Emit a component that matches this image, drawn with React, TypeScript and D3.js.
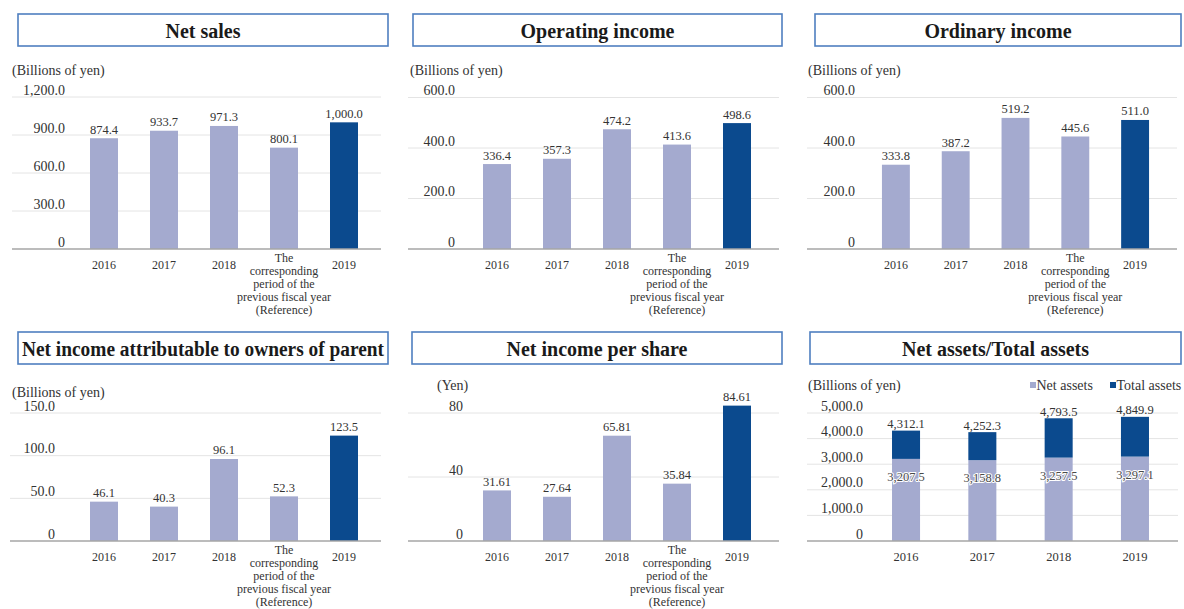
import React from "react";
import * as d3 from "d3";

// ---------- data ----------
const categories = [
  "2016",
  "2017",
  "2018",
  "The\ncorresponding\nperiod of the\nprevious fiscal year\n(Reference)",
  "2019",
];
const netSales = [874.4, 933.7, 971.3, 800.1, 1000.0];
const operatingIncome = [336.4, 357.3, 474.2, 413.6, 498.6];
const ordinaryIncome = [333.8, 387.2, 519.2, 445.6, 511.0];
const netIncomeParent = [46.1, 40.3, 96.1, 52.3, 123.5];
const netIncomePerShare = [31.61, 27.64, 65.81, 35.84, 84.61];

const assetYears = ["2016", "2017", "2018", "2019"];
const netAssets = [3207.5, 3158.8, 3257.5, 3297.1];
const totalAssets = [4312.1, 4252.3, 4793.5, 4849.9];

const ticksNetSales = [0, 300, 600, 900, 1200];
const ticksOperating = [0, 200, 400, 600];
const ticksOrdinary = [0, 200, 400, 600];
const ticksNetIncome = [0, 50, 100, 150];
const ticksPerShare = [0, 40, 80];
const ticksAssets = [0, 1000, 2000, 3000, 4000, 5000];

const legendLabels = ["Net assets", "Total assets"];

// ---------- style ----------
const LIGHT = "#A4AACF";
const DARK = "#0B4A8E";
const BORDER = "#4F7FC0";
const GRID = "#E4E4E4";
const AXIS = "#A6A6A6";
const TEXT = "#333333";
const FONT = "'Liberation Serif', 'Times New Roman', serif";

const fmt1 = (v: number) => (v === 0 ? "0" : d3.format(",.1f")(v));
const fmt0 = (v: number) => d3.format("d")(v);
const fmt2 = (v: number) => d3.format(".2f")(v);

type Layout = {
  title: string;
  box: [number, number, number, number];
  unit: string;
  unitPos: [number, number];
  tickRight: number;
  gridX: [number, number];
  yRange: [number, number];
  domainMax: number;
  ticks: number[];
  tickFmt: (v: number) => string;
  bandRange: [number, number];
};

function TitleBox({ title, box }: { title: string; box: [number, number, number, number] }) {
  const [x, y, w, h] = box;
  return (
    <g>
      <rect x={x} y={y} width={w} height={h} fill="#fff" stroke={BORDER} strokeWidth={1.6} />
      <text
        x={x + w / 2}
        y={y + h / 2 + 1}
        textAnchor="middle"
        dominantBaseline="central"
        fontFamily={FONT}
        fontWeight="bold"
        fontSize={20}
        fill="#1a1a1a"
        textLength={title.length > 30 ? w - 8 : undefined}
        lengthAdjust="spacingAndGlyphs"
      >
        {title}
      </text>
    </g>
  );
}

function Frame({ L, y }: { L: Layout; y: d3.ScaleLinear<number, number> }) {
  return (
    <g>
      <TitleBox title={L.title} box={L.box} />
      <text x={L.unitPos[0]} y={L.unitPos[1]} fontFamily={FONT} fontSize={14} fill={TEXT}>
        {L.unit}
      </text>
      {L.ticks
        .filter((t) => t !== 0)
        .map((t) => (
          <line key={"g" + t} x1={L.gridX[0]} x2={L.gridX[1]} y1={y(t)} y2={y(t)} stroke={GRID} strokeWidth={1} />
        ))}
      {L.ticks.map((t) => (
        <text
          key={"t" + t}
          x={L.tickRight}
          y={y(t) - 2.5}
          textAnchor="end"
          fontFamily={FONT}
          fontSize={14}
          fill={TEXT}
        >
          {L.tickFmt(t)}
        </text>
      ))}
    </g>
  );
}

function BarPanel({ L, values, valueFmt }: { L: Layout; values: number[]; valueFmt: (v: number) => string }) {
  const y = d3.scaleLinear().domain([0, L.domainMax]).range(L.yRange);
  const x = d3
    .scaleBand<string>()
    .domain(categories)
    .range(L.bandRange)
    .paddingInner(32 / 60)
    .paddingOuter(16 / 60);
  const y0 = y(0);
  return (
    <g>
      <Frame L={L} y={y} />
      {values.map((v, i) => {
        const c = categories[i];
        const bx = x(c) as number;
        return (
          <g key={c}>
            <rect
              x={bx}
              y={y(v)}
              width={x.bandwidth()}
              height={y0 - y(v)}
              fill={i === values.length - 1 ? DARK : LIGHT}
            />
            <text
              x={bx + x.bandwidth() / 2}
              y={y(v) - 4.5}
              textAnchor="middle"
              fontFamily={FONT}
              fontSize={12.5}
              fill={TEXT}
            >
              {valueFmt(v)}
            </text>
          </g>
        );
      })}
      <line x1={L.gridX[0]} x2={L.gridX[1]} y1={y0} y2={y0} stroke={AXIS} strokeWidth={1.6} />
      <g transform={`translate(0, ${y0 + 20})`}>
        {categories.map((c) => {
          const lines = c.split("\n");
          const cx = (x(c) as number) + x.bandwidth() / 2;
          const startDy = lines.length > 1 ? -7.5 : 0;
          return (
            <text key={c} textAnchor="middle" fontFamily={FONT} fontSize={12} fill={TEXT} y={startDy}>
              {lines.map((ln, i) => (
                <tspan key={i} x={cx} dy={i === 0 ? 0 : 13}>
                  {ln}
                </tspan>
              ))}
            </text>
          );
        })}
      </g>
    </g>
  );
}

function StackPanel({ L }: { L: Layout }) {
  const y = d3.scaleLinear().domain([0, L.domainMax]).range(L.yRange);
  const x = d3
    .scaleBand<string>()
    .domain(assetYears)
    .range(L.bandRange)
    .paddingInner(48.25 / 76.25)
    .paddingOuter(24 / 76.25);
  const y0 = y(0);
  const rows = assetYears.map((yr, i) => ({ year: yr, net: netAssets[i], rest: totalAssets[i] - netAssets[i] }));
  const stack = d3.stack<any>().keys(["net", "rest"])(rows);
  const colors = [LIGHT, DARK];
  const legendX = [1030, 1110];
  return (
    <g>
      <Frame L={L} y={y} />
      {stack.map((s, si) =>
        s.map((d, i) => (
          <rect
            key={si + "-" + i}
            x={x(assetYears[i]) as number}
            y={y(d[1])}
            width={x.bandwidth()}
            height={y(d[0]) - y(d[1])}
            fill={colors[si]}
          />
        ))
      )}
      {assetYears.map((yr, i) => {
        const cx = (x(yr) as number) + x.bandwidth() / 2;
        return (
          <g key={yr}>
            <text
              x={cx}
              y={y(totalAssets[i]) - 2.5}
              textAnchor="middle"
              fontFamily={FONT}
              fontSize={12.5}
              fill={TEXT}
            >
              {fmt1(totalAssets[i])}
            </text>
            <text
              x={cx}
              y={y(netAssets[i]) + 22}
              textAnchor="middle"
              fontFamily={FONT}
              fontSize={12.5}
              fill="#4a4a4a"
              stroke="#ffffff"
              strokeWidth={2}
              paintOrder="stroke"
            >
              {fmt1(netAssets[i])}
            </text>
          </g>
        );
      })}
      <line x1={L.gridX[0]} x2={L.gridX[1]} y1={y0} y2={y0} stroke={AXIS} strokeWidth={1.6} />
      {assetYears.map((yr) => (
        <text
          key={"x" + yr}
          x={(x(yr) as number) + x.bandwidth() / 2}
          y={y0 + 20}
          textAnchor="middle"
          fontFamily={FONT}
          fontSize={12.5}
          fill={TEXT}
        >
          {yr}
        </text>
      ))}
      {legendLabels.map((lb, i) => (
        <g key={lb}>
          <rect x={legendX[i]} y={L.unitPos[1] - 8} width={6} height={6} fill={colors[i]} />
          <text x={legendX[i] + 6.5} y={L.unitPos[1]} fontFamily={FONT} fontSize={14} fill={TEXT}>
            {lb}
          </text>
        </g>
      ))}
    </g>
  );
}

const P1: Layout = {
  title: "Net sales",
  box: [18, 14, 370, 32],
  unit: "(Billions of yen)",
  unitPos: [12, 75],
  tickRight: 65,
  gridX: [12, 381],
  yRange: [249, 97],
  domainMax: 1200,
  ticks: ticksNetSales,
  tickFmt: fmt1,
  bandRange: [74, 374],
};
const P2: Layout = {
  title: "Operating income",
  box: [413, 14, 369, 32],
  unit: "(Billions of yen)",
  unitPos: [410, 75],
  tickRight: 455,
  gridX: [408, 779],
  yRange: [249, 97.5],
  domainMax: 600,
  ticks: ticksOperating,
  tickFmt: fmt1,
  bandRange: [467, 767],
};
const P3: Layout = {
  title: "Ordinary income",
  box: [815, 14, 366, 32],
  unit: "(Billions of yen)",
  unitPos: [808, 75],
  tickRight: 855,
  gridX: [807, 1177],
  yRange: [249, 97.5],
  domainMax: 600,
  ticks: ticksOrdinary,
  tickFmt: fmt1,
  bandRange: [866, 1165],
};
const P4: Layout = {
  title: "Net income attributable to owners of parent",
  box: [18, 332, 370, 32],
  unit: "(Billions of yen)",
  unitPos: [12, 397],
  tickRight: 55,
  gridX: [10, 381],
  yRange: [541, 413],
  domainMax: 150,
  ticks: ticksNetIncome,
  tickFmt: fmt1,
  bandRange: [74, 374],
};
const P5: Layout = {
  title: "Net income per share",
  box: [412, 332, 370, 32],
  unit: "(Yen)",
  unitPos: [437, 390],
  tickRight: 463,
  gridX: [408, 779],
  yRange: [541, 413],
  domainMax: 80,
  ticks: ticksPerShare,
  tickFmt: fmt0,
  bandRange: [467, 767],
};
const P6: Layout = {
  title: "Net assets/Total assets",
  box: [810, 332, 371, 32],
  unit: "(Billions of yen)",
  unitPos: [808, 390],
  tickRight: 863,
  gridX: [807, 1178],
  yRange: [541, 413],
  domainMax: 5000,
  ticks: ticksAssets,
  tickFmt: fmt1,
  bandRange: [868, 1173],
};

export default function App() {
  return (
    <svg
      width={1184}
      height={609}
      style={{ position: "absolute", left: 0, top: 0, background: "#fff" }}
    >
      <rect x={0} y={0} width={1184} height={609} fill="#fff" />
      <BarPanel L={P1} values={netSales} valueFmt={fmt1} />
      <BarPanel L={P2} values={operatingIncome} valueFmt={fmt1} />
      <BarPanel L={P3} values={ordinaryIncome} valueFmt={fmt1} />
      <BarPanel L={P4} values={netIncomeParent} valueFmt={fmt1} />
      <BarPanel L={P5} values={netIncomePerShare} valueFmt={fmt2} />
      <StackPanel L={P6} />
    </svg>
  );
}
